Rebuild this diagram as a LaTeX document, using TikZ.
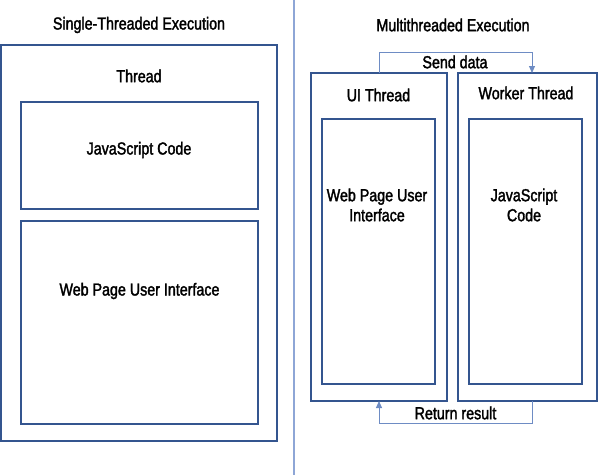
\documentclass[tikz,border=0pt]{standalone}
\usepackage{fontspec}
\setmainfont{Liberation Sans}[FakeStretch=0.82,FakeBold=1.8]
\usetikzlibrary{arrows.meta}
\definecolor{boxblue}{HTML}{34558F}
\definecolor{lineblue}{HTML}{8EA6D6}
\definecolor{arrowblue}{HTML}{6E8CC4}
\begin{document}
\begin{tikzpicture}[x=1pt,y=-1pt,
  box/.style={draw=boxblue,line width=1.7pt},
  lbl/.style={font=\fontsize{17.4}{20}\selectfont,text=black,align=center,inner sep=0pt},
  conn/.style={draw=arrowblue,line width=1pt,-{Triangle[length=7pt,width=6pt]}}]
\useasboundingbox (0,0) rectangle (600,475);
% divider
\draw[lineblue,line width=1.2pt] (294,0) -- (294,475);
% left
\node[lbl] (t1) at (139,25) {Single-Threaded Execution};
\draw[box] (1,45) rectangle (277,441);
\node[lbl] (th) at (139,76) {Thread};
\draw[box] (21,102) rectangle (258,209);
\node[lbl] (js1) at (139,150) {JavaScript Code};
\draw[box] (21,221) rectangle (258,424);
\node[lbl] (ui1) at (139.5,291) {Web Page User Interface};
% right
\node[lbl] (t2) at (453,25) {Multithreaded Execution};
\draw[box] (311,73) rectangle (447,401);
\draw[box] (458,73) rectangle (597,401);
\draw[box] (322,119) rectangle (435,384);
\draw[box] (469,119) rectangle (582,384);
\node[lbl] (uit) at (378.5,95) {UI Thread};
\node[lbl] (wt) at (526,93) {Worker Thread};
\node[lbl] (ui2) at (377,205) {Web Page User\\Interface};
\node[lbl] (js2) at (524,205) {JavaScript\\Code};
\coordinate (s0) at (379,73);
\coordinate (s1) at (532,73);
\coordinate (r0) at (532,401);
\coordinate (r1) at (379,401);
\draw[conn] (s0) -- (379,52) -- (532,52) -- (s1);
\draw[conn] (r0) -- (532,423) -- (379,423) -- (r1);
\node[lbl,fill=white,inner sep=1pt] (sd) at (455,62) {Send data};
\node[lbl,fill=white,inner sep=1pt] (rr) at (455.5,413) {Return result};
\end{tikzpicture}
\end{document}
